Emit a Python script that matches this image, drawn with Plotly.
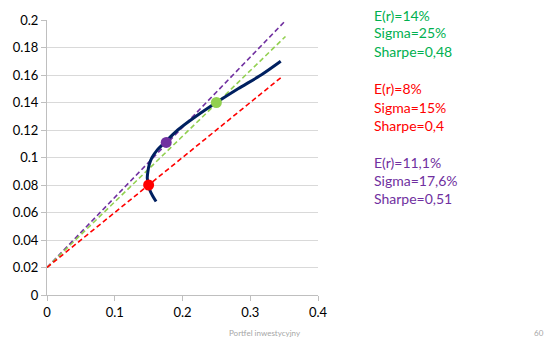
import plotly.graph_objects as go

# Efficient frontier (sigma, expected return)
frontier_sigma = [0.161, 0.156, 0.152, 0.150, 0.148, 0.149, 0.151, 0.155, 0.162, 0.174, 0.193, 0.220, 0.250, 0.282, 0.316, 0.345]
frontier_ret   = [0.068, 0.072, 0.076, 0.080, 0.085, 0.090, 0.095, 0.100, 0.105, 0.111, 0.120, 0.130, 0.140, 0.150, 0.160, 0.170]

# Capital allocation lines (start at risk-free 0.02)
cal_purple_sigma = [0.0, 0.35]
cal_purple_ret = [0.02, 0.1985]
cal_green_sigma = [0.0, 0.352]
cal_green_ret = [0.02, 0.188]
cal_red_sigma = [0.0, 0.345]
cal_red_ret = [0.02, 0.158]

# Portfolios
pt_green = (0.25, 0.14)
pt_red = (0.15, 0.08)
pt_purple = (0.176, 0.111)

x_ticks = [0, 0.1, 0.2, 0.3, 0.4]
x_labels = ["0", "0.1", "0.2", "0.3", "0.4"]
y_ticks = [0, 0.02, 0.04, 0.06, 0.08, 0.1, 0.12, 0.14, 0.16, 0.18, 0.2]
y_labels = ["0", "0.02", "0.04", "0.06", "0.08", "0.1", "0.12", "0.14", "0.16", "0.18", "0.2"]

annot_green = ["E(r)=14%", "Sigma=25%", "Sharpe=0,48"]
annot_red = ["E(r)=8%", "Sigma=15%", "Sharpe=0,4"]
annot_purple = ["E(r)=11,1%", "Sigma=17,6%", "Sharpe=0,51"]

NAVY = "#002060"
PURPLE = "#7030A0"
LGREEN = "#92D050"
RED = "#FF0000"
TGREEN = "#00B050"

DASH = "5px,3px"
fig = go.Figure()
fig.add_trace(go.Scatter(x=cal_purple_sigma, y=cal_purple_ret, mode="lines",
                         line=dict(color=PURPLE, width=1.6, dash=DASH)))
fig.add_trace(go.Scatter(x=cal_green_sigma, y=cal_green_ret, mode="lines",
                         line=dict(color=LGREEN, width=1.6, dash=DASH)))
fig.add_trace(go.Scatter(x=cal_red_sigma, y=cal_red_ret, mode="lines",
                         line=dict(color=RED, width=1.6, dash=DASH)))
fig.add_trace(go.Scatter(x=frontier_sigma, y=frontier_ret, mode="lines",
                         line=dict(color=NAVY, width=3, shape="spline", smoothing=0.8)))
for (sx, sy), col in [(pt_green, LGREEN), (pt_red, RED), (pt_purple, PURPLE)]:
    fig.add_trace(go.Scatter(x=[sx], y=[sy], mode="markers",
                             marker=dict(color=col, size=11, line=dict(width=0))))

FONT = "Lato, Open Sans, sans-serif"
annotations = []
ys_px = [[15, 33, 52], [89, 107, 125], [162, 180, 198]]
for texts, col, ys in [(annot_green, TGREEN, ys_px[0]), (annot_red, RED, ys_px[1]), (annot_purple, PURPLE, ys_px[2])]:
    for t, yp in zip(texts, ys):
        annotations.append(dict(text=t, xref="paper", yref="paper",
                                x=(371.5 - 46.7) / (317.7 - 46.7), y=(295 - yp) / 275,
                                xanchor="left", yanchor="middle", showarrow=False,
                                font=dict(color=col, size=14, family=FONT)))
annotations.append(dict(text="Portfel inwestycyjny", xref="paper", yref="paper",
                        x=(265 - 46.7) / 271, y=(295 - 333) / 275, xanchor="center", yanchor="middle",
                        showarrow=False, font=dict(color="#A6A6A6", size=8, family=FONT)))
annotations.append(dict(text="60", xref="paper", yref="paper",
                        x=(546 - 46.7) / 271, y=(295 - 333) / 275, xanchor="right", yanchor="middle",
                        showarrow=False, font=dict(color="#A6A6A6", size=8, family=FONT)))

fig.update_layout(
    width=555, height=338,
    margin=dict(l=46.7, r=555 - 317.7, t=20, b=43),
    paper_bgcolor="white", plot_bgcolor="white",
    showlegend=False,
    annotations=annotations,
    xaxis=dict(range=[0, 0.4], tickvals=x_ticks, ticktext=x_labels, showgrid=False,
               zeroline=False, showline=True, linecolor="#BFBFBF", linewidth=1,
               ticks="outside", ticklen=5, tickcolor="#BFBFBF",
               tickfont=dict(size=13, color="#000000", family=FONT)),
    yaxis=dict(range=[0, 0.2], tickvals=y_ticks, ticktext=y_labels, showgrid=True,
               gridcolor="#D9D9D9", gridwidth=1, zeroline=False, showline=True,
               linecolor="#BFBFBF", linewidth=1, ticks="outside", ticklen=5,
               tickcolor="#BFBFBF", tickfont=dict(size=13, color="#000000", family=FONT)),
)

fig.write_html("out.html")
